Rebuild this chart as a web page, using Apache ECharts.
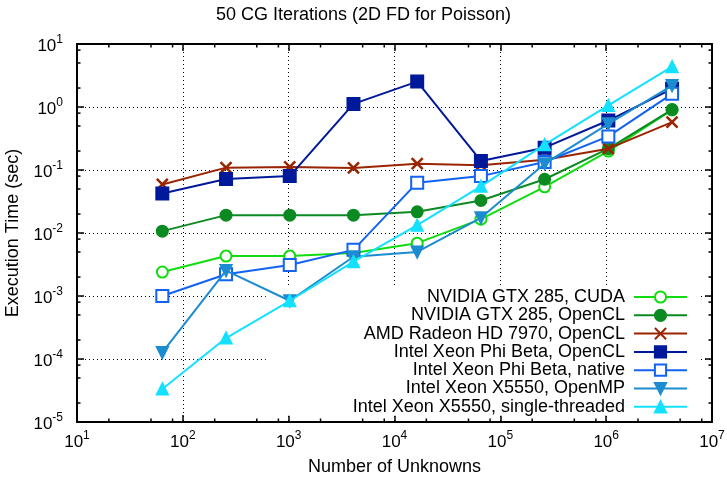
<!DOCTYPE html>
<html>
<head>
<meta charset="utf-8">
<script src="https://cdn.jsdelivr.net/npm/echarts@6/dist/echarts.min.js"></script>
<style>html,body{margin:0;padding:0;background:#fff;}#chart{width:727px;height:477px;}</style>
</head>
<body>
<div id="chart"></div>
<script>
var unknowns = [64, 256, 1024, 4096, 16384, 65536, 262144, 1048576, 4194304];
var seriesNames = [
  'NVIDIA GTX 285, CUDA',
  'NVIDIA GTX 285, OpenCL',
  'AMD Radeon HD 7970, OpenCL',
  'Intel Xeon Phi Beta, OpenCL',
  'Intel Xeon Phi Beta, native',
  'Intel Xeon X5550, OpenMP',
  'Intel Xeon X5550, single-threaded'
];
var cudaGTX285 = [0.0024, 0.0043, 0.0043, 0.0048, 0.0069, 0.0166, 0.054, 0.20, 0.90];
var openclGTX285 = [0.0107, 0.0192, 0.0192, 0.0192, 0.0217, 0.0328, 0.0713, 0.218, 0.91];
var openclAMD7970 = [0.059, 0.109, 0.112, 0.108, 0.126, 0.119, 0.146, 0.218, 0.575];
var openclPhi = [0.0424, 0.072, 0.080, 1.12, 2.53, 0.139, 0.226, 0.61, 1.94];
var nativePhi = [0.0010, 0.00221, 0.0031, 0.0054, 0.063, 0.080, 0.134, 0.341, 1.62];
var openmpX5550 = [0.000127, 0.00253, 0.00084, 0.0042, 0.0050, 0.0174, 0.126, 0.54, 2.19];
var singleX5550 = [0.0000335, 0.000215, 0.00084, 0.0035, 0.0133, 0.055, 0.252, 1.06, 4.37];
var minorMultiples = [2, 5, 8];
var xDecades = [10, 100, 1000, 10000, 100000, 1000000];
var yDecades = [0.00001, 0.0001, 0.001, 0.01, 0.1, 1];

var allValues = [cudaGTX285, openclGTX285, openclAMD7970, openclPhi, nativePhi, openmpX5550, singleX5550];
var colors = ['#10dc10', '#0c8a22', '#9a2400', '#00189a', '#1262f4', '#1c8cd0', '#14e0ff'];
var symbols = ['emptyCircle', 'circle', 'path://M0,0L10,10M10,0L0,10', 'rect', 'emptyRect', 'triangle', 'triangle'];
var symbolSizes = [11, 11, 11, 12, 12, 11, 11];
var rotates = [0, 0, 0, 0, 0, 180, 0];

function pairs(vals) { return unknowns.map(function (x, i) { return [x, vals[i]]; }); }

var FONT = 'Liberation Sans, Arial, sans-serif';
function powLabel(v) {
  var e = Math.round(Math.log10(v));
  return '{b|10}{s|' + e + '}';
}
var rich = {
  b: { fontSize: 17, fontFamily: FONT, color: '#000', verticalAlign: 'bottom' },
  s: { fontSize: 12, fontFamily: FONT, color: '#000', padding: [0, 0, 9, 0], verticalAlign: 'bottom' }
};

var series = allValues.map(function (vals, i) {
  return {
    name: seriesNames[i],
    type: 'line',
    xAxisIndex: 0, yAxisIndex: 0,
    data: pairs(vals),
    symbol: symbols[i],
    symbolSize: symbolSizes[i],
    symbolRotate: rotates[i],
    showAllSymbol: true,
    lineStyle: { color: colors[i], width: 2 },
    itemStyle: { color: colors[i], borderColor: colors[i], borderWidth: (i === 2 ? 2.5 : 2) },
    emphasis: { disabled: true },
    animation: false,
    z: 3 + i
  };
});

// minor tick marks
var minorX = [], minorY = [];
xDecades.forEach(function (d) { minorMultiples.forEach(function (m) { minorX.push(d * m); }); });
yDecades.forEach(function (d) { minorMultiples.forEach(function (m) { minorY.push(d * m); }); });
var tickData = minorX.map(function (v) { return [v, 1, 'x']; }).concat(minorY.map(function (v) { return [100, v, 'y']; }));
series.push({
  type: 'custom',
  xAxisIndex: 0, yAxisIndex: 0,
  data: tickData,
  silent: true,
  animation: false,
  z: 20,
  renderItem: function (params, api) {
    var cs = params.coordSys;
    var kind = api.value(2);
    var L = 3.5;
    var st = { stroke: '#000', lineWidth: 1.5 };
    if (kind === 'x') {
      var px = api.coord([api.value(0), 1])[0];
      return { type: 'group', children: [
        { type: 'line', shape: { x1: px, y1: cs.y + cs.height, x2: px, y2: cs.y + cs.height - L }, style: st },
        { type: 'line', shape: { x1: px, y1: cs.y, x2: px, y2: cs.y + L }, style: st }
      ]};
    } else {
      var py = api.coord([100, api.value(1)])[1];
      return { type: 'group', children: [
        { type: 'line', shape: { x1: cs.x, y1: py, x2: cs.x + L, y2: py }, style: st },
        { type: 'line', shape: { x1: cs.x + cs.width, y1: py, x2: cs.x + cs.width - L, y2: py }, style: st }
      ]};
    }
  }
});

var axisLineStyle = { show: true, onZero: false, lineStyle: { color: '#000', width: 2 } };
var majorTick = { show: true, inside: true, length: 7, lineStyle: { color: '#000', width: 1.5 } };
var grid = { left: 77, right: 15, top: 44, bottom: 55, containLabel: false, outerBoundsMode: 'none' };

var option = {
  backgroundColor: '#fff',
  animation: false,
  title: {
    text: '50 CG Iterations (2D FD for Poisson)',
    left: 'center', top: 1,
    textStyle: { fontFamily: FONT, fontSize: 18, fontWeight: 'normal', color: '#000' }
  },
  grid: grid,
  legend: {
    orient: 'vertical',
    align: 'right',
    right: 27,
    top: 288,
    padding: [0, 12, 0, 87],
    backgroundColor: '#fff',
    itemWidth: 53,
    itemHeight: 14,
    itemGap: 0.3,
    selectedMode: false,
    textStyle: { fontFamily: FONT, fontSize: 18, color: '#000', padding: [0, 4, 0, 0] },
    data: seriesNames,
    z: 1
  },
  xAxis: [
    {
      type: 'log', logBase: 10, min: 10, max: 10000000,
      position: 'bottom',
      name: 'Number of Unknowns', nameLocation: 'middle', nameGap: 36,
      nameTextStyle: { fontFamily: FONT, fontSize: 18, color: '#000' },
      axisLine: axisLineStyle, axisTick: majorTick,
      axisLabel: { formatter: powLabel, rich: rich, margin: 8 },
      splitLine: { show: true, lineStyle: { color: '#000', width: 1, type: [1, 3] } }
    },
    {
      type: 'log', logBase: 10, min: 10, max: 10000000,
      position: 'top',
      axisLine: axisLineStyle, axisTick: majorTick,
      axisLabel: { show: false }, splitLine: { show: false }
    }
  ],
  yAxis: [
    {
      type: 'log', logBase: 10, min: 0.00001, max: 10,
      position: 'left',
      name: 'Execution Time (sec)', nameLocation: 'middle', nameGap: 55,
      nameTextStyle: { fontFamily: FONT, fontSize: 18, color: '#000' },
      axisLine: axisLineStyle, axisTick: majorTick,
      axisLabel: { formatter: powLabel, rich: rich, margin: 14 },
      splitLine: { show: true, lineStyle: { color: '#000', width: 1, type: [1, 3] } }
    },
    {
      type: 'log', logBase: 10, min: 0.00001, max: 10,
      position: 'right',
      axisLine: axisLineStyle, axisTick: majorTick,
      axisLabel: { show: false }, splitLine: { show: false }
    }
  ],
  series: series
};

var chart = echarts.init(document.getElementById('chart'), null, { renderer: 'canvas' });
chart.setOption(option);
</script>
</body>
</html>
